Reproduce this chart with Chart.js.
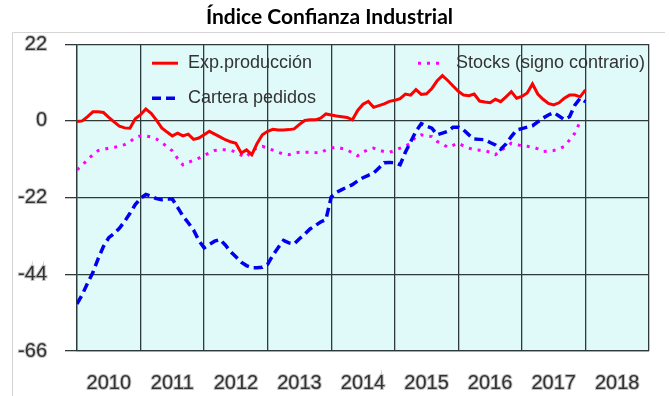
<!DOCTYPE html>
<html>
<head>
<meta charset="utf-8">
<script src="https://cdn.jsdelivr.net/npm/chart.js@4/dist/chart.umd.min.js"></script>
<style>
  body { margin: 0; background: #fff; }
  #wrap { width: 669px; height: 396px; position: relative; }
</style>
</head>
<body>
<div id="wrap"><canvas id="confianza"></canvas></div>
<script>
// años del eje horizontal (datos mensuales desde ene-2010)
const years = ["2010", "2011", "2012", "2013", "2014", "2015", "2016", "2017", "2018"];
const yTicks = [22, 0, -22, -44, -66];

const expProduccion = [
  -0.2, 0, 1.2, 2.6, 2.6, 2.4, 1.0, -0.3, -1.5, -2.0, -2.1, 0.6,
  1.8, 3.4, 2.2, 0.2, -2.0, -3.2, -4.3, -3.5, -4.3, -3.8, -5.3, -4.9,
  -4.0, -3.0, -3.8, -4.6, -5.4, -6.0, -6.4, -9.2, -8.3, -9.7, -6.5, -4.0,
  -3.0, -2.4, -2.6, -2.6, -2.5, -2.3, -1.0, 0.1, 0.3, 0.3, 0.8, 2.0,
  1.7, 1.4, 1.2, 1.0, 0.3, 3.0, 4.8, 5.6, 3.9, 4.4, 4.9, 5.6,
  5.9, 6.4, 7.7, 7.4, 9.0, 7.6, 7.8, 9.3, 11.5, 13.0, 11.6, 10.0,
  8.5, 7.4, 7.2, 7.7, 5.7, 5.4, 5.2, 6.2, 5.5, 6.9, 8.4, 6.5,
  7.0, 8.0, 10.6, 7.7, 6.2, 5.0, 4.6, 5.2, 6.5, 7.4, 7.4, 6.9,
  8.9
];

const carteraPedidos = [
  -52.5, -49.8, -46.5, -43.5, -39.5, -36.0, -33.5, -32.3, -30.8, -28.8, -26.5, -24.0,
  -22.2, -21.1, -21.6, -22.3, -22.6, -22.4, -22.4, -24.8, -27.3, -29.2, -31.3, -34.3,
  -36.4, -35.4, -34.5, -34.0, -35.6, -37.5, -39.0, -40.5, -41.5, -42.1, -42.1, -42.0,
  -41.1, -38.5, -36.3, -34.3, -35.0, -35.3, -33.8, -32.5, -31.0, -30.0, -29.0, -28.3,
  -21.8, -20.5, -19.7, -19.0, -18.3, -17.2, -16.3, -15.6, -15.0, -13.5, -12.0, -11.9,
  -12.0, -12.6, -9.0, -6.0, -3.0, -0.8, -1.5, -2.1, -4.0, -3.5, -3.0, -1.8,
  -1.8, -2.6, -4.0, -5.2, -5.3, -5.4, -6.2, -6.9, -8.1, -6.6, -4.5, -2.6,
  -2.2, -1.8, -1.4, -0.3, 0.8, 1.7, 2.4, 1.4, 0.4, 1.2, 4.5, 6.5,
  5.5
];

const stocks = [
  -14.0, -12.8, -11.0, -9.7, -8.5, -8.2, -7.8, -7.6, -7.3, -6.8, -6.0, -4.7,
  -4.3, -4.3, -4.6, -5.2, -6.2, -7.4, -8.6, -10.8, -12.6, -11.9, -11.3, -10.7,
  -9.9, -9.2, -8.5, -8.3, -8.3, -8.4, -9.0, -9.8, -10.4, -8.5, -7.8, -7.3,
  -7.8, -8.4, -9.0, -9.5, -9.7, -9.3, -9.0, -9.0, -9.0, -9.1, -9.2, -8.3,
  -7.8, -7.5, -7.9, -8.3, -9.2, -10.0, -9.0, -8.2, -7.8, -8.4, -8.8, -9.0,
  -8.5, -7.8, -7.3, -6.4, -4.5, -4.0, -4.3, -4.5, -5.9, -6.6, -7.6, -7.0,
  -6.4, -7.2, -7.8, -8.3, -8.4, -8.5, -9.0, -9.7, -8.5, -7.5, -6.4, -6.8,
  -7.1, -7.3, -7.5, -8.0, -8.8, -8.7, -8.5, -8.0, -7.3, -5.5, -3.5, -0.2
];

const toPoints = arr => arr.map((v, i) => ({ x: i, y: v }));

// fondo del área de trazado y marco exterior
const plotBackground = {
  id: "plotBackground",
  beforeDraw(chart) {
    const { ctx, chartArea: a } = chart;
    ctx.save();
    ctx.fillStyle = "#e0f9f9";
    ctx.fillRect(a.left, a.top, a.right - a.left, a.bottom - a.top);
    ctx.strokeStyle = "#d4d4d4";
    ctx.lineWidth = 1;
    ctx.beginPath();
    ctx.moveTo(12.5, chart.height);
    ctx.lineTo(12.5, 32.5);
    ctx.lineTo(chart.width - 4, 32.5);
    ctx.stroke();
    ctx.restore();
  }
};

// leyenda dentro del gráfico, en dos columnas
const innerLegend = {
  id: "innerLegend",
  afterDatasetsDraw(chart) {
    const { ctx, chartArea: a } = chart;
    const spots = [
      { x: a.left + 75, y: a.top + 19, len: 26 },
      { x: a.left + 75, y: a.top + 54, len: 26 },
      { x: a.left + 341, y: a.top + 19, len: 22 }
    ];
    ctx.save();
    ctx.font = "18px 'Liberation Sans', Arial, sans-serif";
    ctx.textBaseline = "middle";
    chart.data.datasets.forEach((ds, i) => {
      const s = spots[i];
      ctx.strokeStyle = ds.borderColor;
      ctx.lineWidth = ds.borderWidth;
      ctx.setLineDash(ds.borderDash || []);
      ctx.beginPath();
      ctx.moveTo(s.x, s.y);
      ctx.lineTo(s.x + s.len, s.y);
      ctx.stroke();
      ctx.setLineDash([]);
      ctx.fillStyle = "#333";
      ctx.fillText(ds.label, s.x + s.len + (i === 2 ? 16 : 10), s.y);
    });
    ctx.restore();
  }
};

new Chart(document.getElementById("confianza"), {
  type: "line",
  data: {
    datasets: [
      {
        label: "Exp.producción",
        data: toPoints(expProduccion),
        borderColor: "#ff0000",
        borderWidth: 3
      },
      {
        label: "Cartera pedidos",
        data: toPoints(carteraPedidos),
        borderColor: "#0000ee",
        borderWidth: 3.5,
        borderDash: [9, 5]
      },
      {
        label: "Stocks (signo contrario)",
        data: toPoints(stocks),
        borderColor: "#ff00ff",
        borderWidth: 3,
        borderDash: [3, 6]
      }
    ]
  },
  options: {
    responsive: true,
    maintainAspectRatio: false,
    animation: false,
    layout: { padding: { right: 10 } },
    elements: {
      point: { radius: 0 },
      line: { tension: 0, borderCapStyle: "butt" }
    },
    plugins: {
      legend: { display: false },
      tooltip: { enabled: false },
      title: {
        display: true,
        text: "Índice Confianza Industrial",
        color: "#000",
        font: { family: "Lato", size: 21, weight: "bold", lineHeight: 1.2 },
        padding: { top: 5, bottom: 14 }
      }
    },
    scales: {
      x: {
        type: "linear",
        min: 0,
        max: years.length * 12,
        afterFit: s => { s.height = 45; },
        afterBuildTicks: s => {
          s.ticks = [];
          for (let v = 0; v <= years.length * 12; v += 6) s.ticks.push({ value: v });
        },
        ticks: {
          autoSkip: false,
          maxRotation: 0,
          padding: 20,
          color: "#333",
          textStrokeColor: "#c4c4c4",
          textStrokeWidth: 2,
          font: { family: "'Liberation Sans', Arial", size: 20 },
          callback: v => (v % 12 === 6 ? years[(v - 6) / 12] : "")
        },
        grid: {
          drawTicks: false,
          lineWidth: 1.3,
          color: ctx => (ctx.tick && ctx.tick.value % 12 === 0 ? "#2f3a3a" : "rgba(0,0,0,0)")
        },
        border: { color: "#2f3a3a", width: 1.3 }
      },
      y: {
        min: -66,
        max: 22,
        afterFit: s => { s.width = 77; },
        afterBuildTicks: s => { s.ticks = yTicks.map(v => ({ value: v })); },
        ticks: {
          padding: 18,
          color: "#333",
          textStrokeColor: "#c4c4c4",
          textStrokeWidth: 2,
          font: { family: "'Liberation Sans', Arial", size: 20 }
        },
        grid: { tickLength: 12, lineWidth: 1.3, color: "#2f3a3a" },
        border: { color: "#2f3a3a", width: 1.3 }
      }
    }
  },
  plugins: [plotBackground, innerLegend]
});
</script>
</body>
</html>
